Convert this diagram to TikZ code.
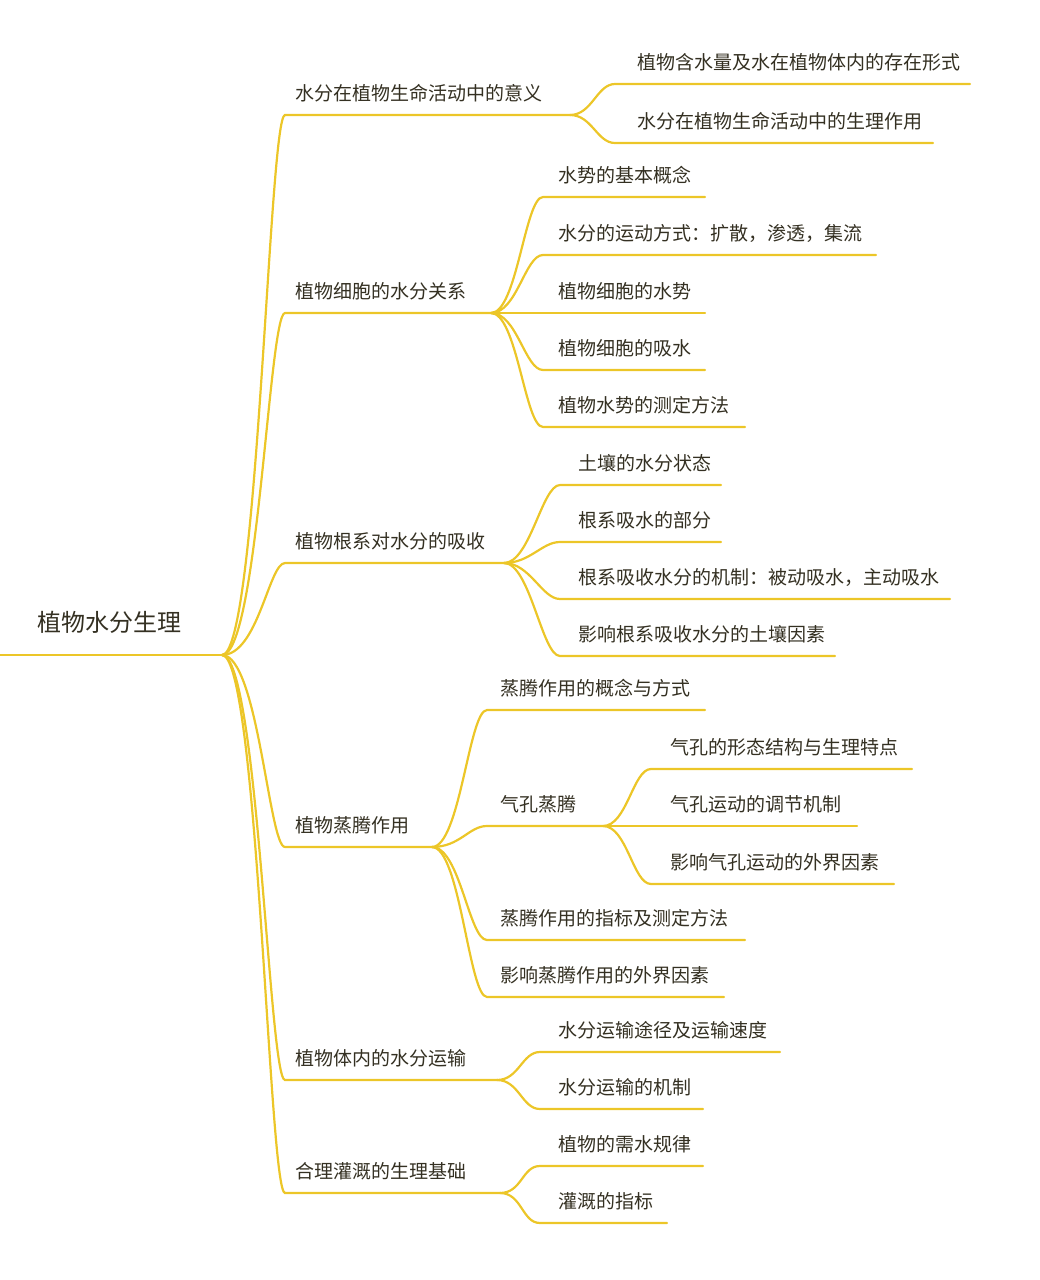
\documentclass[tikz,border=0pt]{standalone}
\usepackage{fontspec}
\setmainfont{Noto Sans CJK SC}
\usetikzlibrary{positioning}
\definecolor{branchc}{RGB}{236,198,40}
\definecolor{txt}{RGB}{52,48,34}

\begin{document}
\begin{tikzpicture}[x=1pt,y=-1pt]
\tikzstyle{branch}=[draw=branchc,line width=2.2pt,line cap=round]
\tikzstyle{topic}=[anchor=base west,inner sep=0pt,text=txt,font=\fontsize{19}{19}\selectfont]
\tikzstyle{roottopic}=[topic,font=\fontsize{24}{24}\selectfont]
\useasboundingbox (0,0) rectangle (1040,1280);

% root
\node [roottopic] at (37,631) (root) {植物水分生理};
\coordinate (r-s) at (0,655);
\coordinate (r-e) at (222,655);
\draw [branch] (r-s) -- (r-e);

% first level
\coordinate (a-s) at (285,115);  \coordinate (a-e) at (570,115);
\coordinate (b-s) at (285,313);  \coordinate (b-e) at (491,313);
\coordinate (c-s) at (285,563);  \coordinate (c-e) at (504,563);
\coordinate (d-s) at (285,847);  \coordinate (d-e) at (432,847);
\coordinate (e-s) at (285,1080); \coordinate (e-e) at (497,1080);
\coordinate (f-s) at (285,1193); \coordinate (f-e) at (500,1193);
\node [topic] at (295,100)  (a) {水分在植物生命活动中的意义};
\node [topic] at (295,298)  (b) {植物细胞的水分关系};
\node [topic] at (295,548)  (c) {植物根系对水分的吸收};
\node [topic] at (295,832)  (d) {植物蒸腾作用};
\node [topic] at (295,1065) (e) {植物体内的水分运输};
\node [topic] at (295,1178) (f) {合理灌溉的生理基础};
\foreach \n in {a,b,c,d,e,f}
  \draw [branch] (r-e) .. controls +(36,0) and +(-16,0) .. (\n-s) -- (\n-e);

% 水分在植物生命活动中的意义
\coordinate (a1-s) at (615,84);  \coordinate (a1-e) at (970,84);
\coordinate (a2-s) at (615,143); \coordinate (a2-e) at (933,143);
\node [topic] at (637,69)  (a1) {植物含水量及水在植物体内的存在形式};
\node [topic] at (637,128) (a2) {水分在植物生命活动中的生理作用};
\foreach \n in {a1,a2}
  \draw [branch] (a-e) .. controls +(22,0) and +(-18,0) .. (\n-s) -- (\n-e);

% 植物细胞的水分关系
\coordinate (b1-s) at (543,197); \coordinate (b1-e) at (705,197);
\coordinate (b2-s) at (543,255); \coordinate (b2-e) at (876,255);
\coordinate (b3-s) at (543,313); \coordinate (b3-e) at (705,313);
\coordinate (b4-s) at (543,370); \coordinate (b4-e) at (705,370);
\coordinate (b5-s) at (543,427); \coordinate (b5-e) at (745,427);
\node [topic] at (558,182) (b1) {水势的基本概念};
\node [topic] at (558,240) (b2) {水分的运动方式：扩散，渗透，集流};
\node [topic] at (558,298) (b3) {植物细胞的水势};
\node [topic] at (558,355) (b4) {植物细胞的吸水};
\node [topic] at (558,412) (b5) {植物水势的测定方法};
\foreach \n in {b1,b2,b3,b4,b5}
  \draw [branch] (b-e) .. controls +(26,0) and +(-18,0) .. (\n-s) -- (\n-e);

% 植物根系对水分的吸收
\coordinate (c1-s) at (560,485); \coordinate (c1-e) at (721,485);
\coordinate (c2-s) at (560,542); \coordinate (c2-e) at (721,542);
\coordinate (c3-s) at (560,599); \coordinate (c3-e) at (950,599);
\coordinate (c4-s) at (560,656); \coordinate (c4-e) at (835,656);
\node [topic] at (578,470) (c1) {土壤的水分状态};
\node [topic] at (578,527) (c2) {根系吸水的部分};
\node [topic] at (578,584) (c3) {根系吸收水分的机制：被动吸水，主动吸水};
\node [topic] at (578,641) (c4) {影响根系吸收水分的土壤因素};
\foreach \n in {c1,c2,c3,c4}
  \draw [branch] (c-e) .. controls +(26,0) and +(-18,0) .. (\n-s) -- (\n-e);

% 植物蒸腾作用
\coordinate (d1-s) at (487,710); \coordinate (d1-e) at (705,710);
\coordinate (d2-s) at (487,826); \coordinate (d2-e) at (603,826);
\coordinate (d3-s) at (487,940); \coordinate (d3-e) at (745,940);
\coordinate (d4-s) at (487,997); \coordinate (d4-e) at (724,997);
\node [topic] at (500,695) (d1) {蒸腾作用的概念与方式};
\node [topic] at (500,811) (d2) {气孔蒸腾};
\node [topic] at (500,925) (d3) {蒸腾作用的指标及测定方法};
\node [topic] at (500,982) (d4) {影响蒸腾作用的外界因素};
\foreach \n in {d1,d2,d3,d4}
  \draw [branch] (d-e) .. controls +(28,0) and +(-18,0) .. (\n-s) -- (\n-e);

% 气孔蒸腾
\coordinate (d21-s) at (651,769); \coordinate (d21-e) at (912,769);
\coordinate (d22-s) at (651,826); \coordinate (d22-e) at (857,826);
\coordinate (d23-s) at (651,884); \coordinate (d23-e) at (894,884);
\node [topic] at (670,754) (d21) {气孔的形态结构与生理特点};
\node [topic] at (670,811) (d22) {气孔运动的调节机制};
\node [topic] at (670,869) (d23) {影响气孔运动的外界因素};
\foreach \n in {d21,d22,d23}
  \draw [branch] (d2-e) .. controls +(24,0) and +(-18,0) .. (\n-s) -- (\n-e);

% 植物体内的水分运输
\coordinate (e1-s) at (540,1052); \coordinate (e1-e) at (780,1052);
\coordinate (e2-s) at (540,1109); \coordinate (e2-e) at (703,1109);
\node [topic] at (558,1037) (e1) {水分运输途径及运输速度};
\node [topic] at (558,1094) (e2) {水分运输的机制};
\foreach \n in {e1,e2}
  \draw [branch] (e-e) .. controls +(22,0) and +(-18,0) .. (\n-s) -- (\n-e);

% 合理灌溉的生理基础
\coordinate (f1-s) at (540,1166); \coordinate (f1-e) at (703,1166);
\coordinate (f2-s) at (540,1223); \coordinate (f2-e) at (667,1223);
\node [topic] at (558,1151) (f1) {植物的需水规律};
\node [topic] at (558,1208) (f2) {灌溉的指标};
\foreach \n in {f1,f2}
  \draw [branch] (f-e) .. controls +(22,0) and +(-18,0) .. (\n-s) -- (\n-e);
\end{tikzpicture}
\end{document}
